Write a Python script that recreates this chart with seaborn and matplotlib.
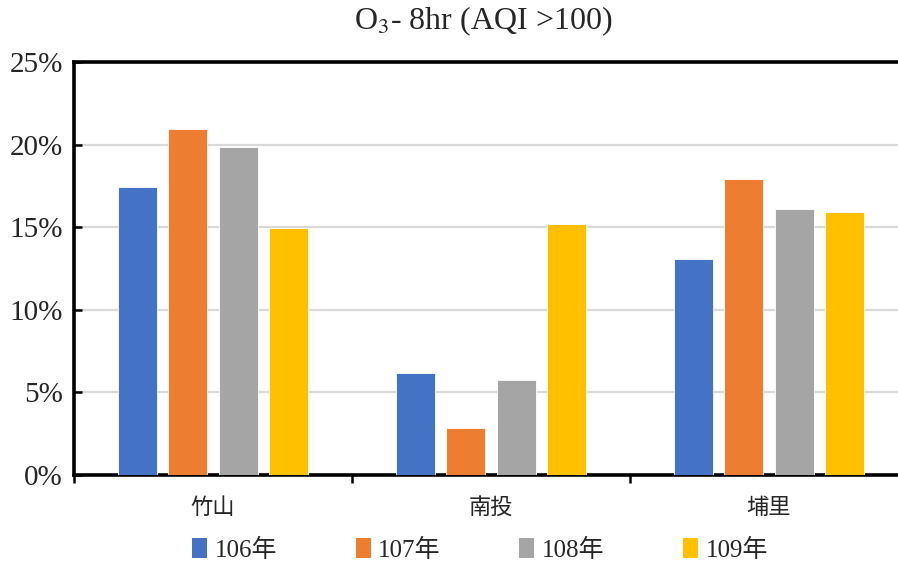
import matplotlib
matplotlib.use("Agg")
import matplotlib.pyplot as plt
import seaborn as sns
import pandas as pd
from matplotlib.ticker import FuncFormatter, FixedLocator
from matplotlib.patches import Patch

sites = ["竹山", "南投", "埔里"]
years = ["106年", "107年", "108年", "109年"]
v106 = [17.45, 6.15, 13.1]
v107 = [20.95, 2.85, 17.9]
v108 = [19.85, 5.75, 16.1]
v109 = [14.95, 15.2, 15.9]
colors = ["#4472C4", "#ED7D31", "#A5A5A5", "#FFC000"]
yticks = [0, 5, 10, 15, 20, 25]
title = "O$_3$- 8hr (AQI >100)"

sns.set_theme(style="white")
plt.rcParams["font.family"] = ["Liberation Serif", "Noto Sans CJK TC", "DejaVu Sans"]
plt.rcParams["mathtext.fontset"] = "stix"

rows = []
for yr, vals in zip(years, [v106, v107, v108, v109]):
    for s, v in zip(sites, vals):
        rows.append({"site": s, "year": yr, "value": v})
df = pd.DataFrame(rows)

fig = plt.figure(figsize=(8.98, 5.65), dpi=100)
ax = fig.add_axes([74 / 898, (565 - 475) / 565, 834 / 898, (475 - 62) / 565])

sns.barplot(data=df, x="site", y="value", hue="year", order=sites, hue_order=years,
            palette=colors, saturation=1, width=0.727, gap=0.23, ax=ax, legend=False,
            edgecolor="white", linewidth=0.6, zorder=3)

ax.set_xlim(-0.5, 2.5)
ax.set_ylim(0, 25)
ax.set_yticks(yticks)
ax.yaxis.set_major_formatter(FuncFormatter(lambda v, p: f"{int(v)}%"))
ax.grid(axis="y", color="#D9D9D9", linewidth=1.6, zorder=0)
ax.set_axisbelow(True)

ax.xaxis.set_major_locator(FixedLocator([-0.5, 0.5, 1.5, 2.5]))
ax.xaxis.set_minor_locator(FixedLocator([0, 1, 2]))
ax.set_xticklabels([], minor=False)
ax.set_xticklabels(sites, minor=True, fontsize=16, family=["Noto Sans CJK TC"])
ax.tick_params(axis="x", which="major", direction="out", length=6, width=1.8, color="black", bottom=True)
ax.tick_params(axis="x", which="minor", length=0, pad=15, bottom=True)
ax.tick_params(axis="y", direction="in", length=6, width=1.8, color="black", left=True,
               labelsize=21, pad=8)
ax.set_xlabel("")
ax.set_ylabel("")

for sp in ["left", "bottom", "top", "right"]:
    ax.spines[sp].set_visible(True)
    ax.spines[sp].set_color("black")
    ax.spines[sp].set_linewidth(2.6)

fig.text(483 / 898, 1 - 21 / 565, title, ha="center", va="center", fontsize=23)

handles = [Patch(facecolor=c, edgecolor="none") for c in colors]
leg = fig.legend(handles, years, loc="center", bbox_to_anchor=(480 / 898, 1 - 550 / 565),
                 ncol=4, frameon=False, handlelength=0.6, handleheight=0.8,
                 handletextpad=0.3, columnspacing=3.15,
                 prop={"family": ["Liberation Serif", "Noto Sans CJK TC"], "size": 18})

fig.savefig("out.png", dpi=100)
